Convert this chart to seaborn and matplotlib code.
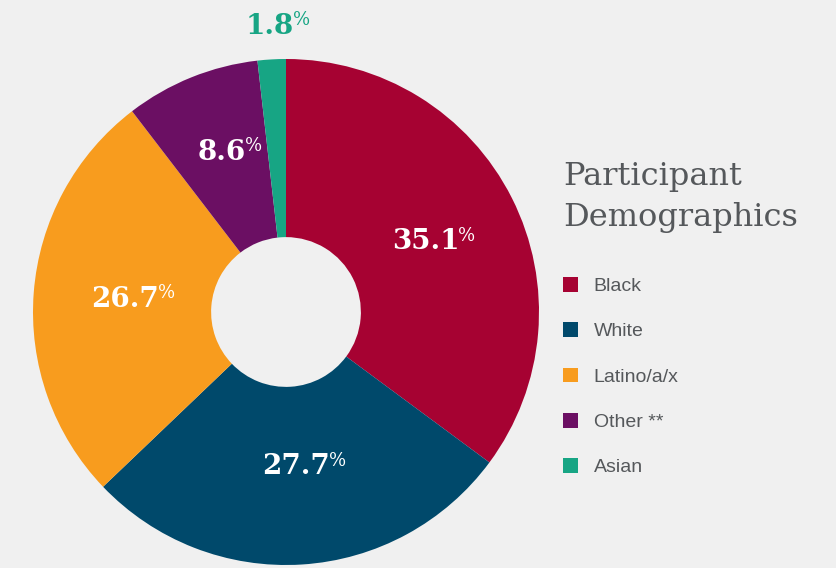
import matplotlib
matplotlib.use("Agg")
import matplotlib.pyplot as plt
import seaborn as sns
import numpy as np

# Participant demographics (percent)
groups = ["Black", "White", "Latino/a/x", "Other **", "Asian"]
shares = [35.1, 27.7, 26.7, 8.6, 1.8]
colors = ["#a60232", "#00496b", "#f89c1e", "#6b0f63", "#17a584"]
label_colors = ["white", "white", "white", "white", "#17a584"]

# how far out (in pie radii) each percentage label sits
label_radius = [0.617, 0.613, 0.64, 0.68, 1.13]

BG = "#f0f0f0"

sns.set_theme(style="white", rc={"figure.facecolor": BG, "axes.facecolor": BG})

fig = plt.figure(figsize=(8.37, 5.68), dpi=100)
W, H = 837, 568

# pie centre (286, 312) px, radius 253 px
ax = fig.add_axes([33 / W, 3 / H, 506 / W, 506 / H])
wedges, _ = ax.pie(shares, colors=colors, startangle=90, counterclock=False,
                   wedgeprops=dict(width=0.704, linewidth=0))
ax.set_xlim(-1, 1)
ax.set_ylim(-1, 1)
ax.set_aspect("equal")
ax.axis("off")

for w, val, r, c in zip(wedges, shares, label_radius, label_colors):
    mid = np.deg2rad((w.theta1 + w.theta2) / 2)
    x, y = r * np.cos(mid), r * np.sin(mid)
    num = ax.text(x, y, f"{val:.1f}", ha="center", va="center", color=c,
                  fontsize=20, fontweight="bold", family="DejaVu Serif")
    # small superscript percent sign
    ax.annotate("%", xy=(1, 1), xycoords=num, xytext=(-0.5, 1.2), textcoords="offset points",
                ha="left", va="top", color=c, fontsize=13, family="DejaVu Serif")

# title
fig.text(563 / W, 1 - 185 / H, "Participant", ha="left", va="baseline",
         fontsize=23, color="#55585b", family="DejaVu Serif")
fig.text(563 / W, 1 - 226 / H, "Demographics", ha="left", va="baseline",
         fontsize=23, color="#55585b", family="DejaVu Serif")

leg = fig.legend(wedges, groups, loc="upper left", bbox_to_anchor=(563 / W, 1 - 277 / H),
                 frameon=False, borderpad=0, borderaxespad=0,
                 handlelength=0.78, handleheight=0.78, handletextpad=0.8,
                 labelspacing=1.4, prop={"family": "Liberation Sans", "size": 14})
for t in leg.get_texts():
    t.set_color("#55585b")

fig.savefig("out.png", dpi=100, facecolor=BG)
